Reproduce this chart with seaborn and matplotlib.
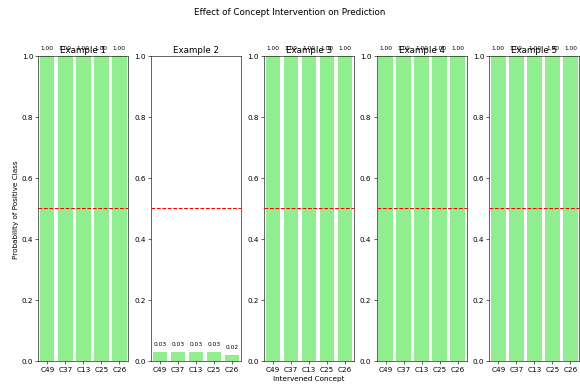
import matplotlib
matplotlib.use("Agg")
import matplotlib.pyplot as plt
import seaborn as sns

concepts = ["C49", "C37", "C13", "C25", "C26"]
example_titles = ["Example 1", "Example 2", "Example 3", "Example 4", "Example 5"]
example_1 = [1.00, 1.00, 1.00, 1.00, 1.00]
example_2 = [0.03, 0.03, 0.03, 0.03, 0.02]
example_3 = [1.00, 1.00, 1.00, 1.00, 1.00]
example_4 = [1.00, 1.00, 1.00, 1.00, 1.00]
example_5 = [1.00, 1.00, 1.00, 1.00, 1.00]
examples = [example_1, example_2, example_3, example_4, example_5]

fig, axes = plt.subplots(1, 5, figsize=(11, 7.3), dpi=52.73)
fig.suptitle("Effect of Concept Intervention on Prediction")

for i, (ax, title, probs) in enumerate(zip(axes, example_titles, examples)):
    sns.barplot(x=concepts, y=probs, color="lightgreen", saturation=1, ax=ax)
    ax.axhline(0.5, color="red", linestyle="--", linewidth=1.4, zorder=3)
    for j, p in enumerate(probs):
        ax.text(j, p + 0.02, f"{p:.2f}", ha="center", va="bottom", fontsize=8)
    ax.set_ylim(0, 1)
    ax.set_title(title)
    if i == 0:
        ax.set_ylabel("Probability of Positive Class")
    if i == 2:
        ax.set_xlabel("Intervened Concept")

fig.subplots_adjust(left=0.066, right=0.999, top=0.852, bottom=0.06, wspace=0.252)
fig.savefig("out.png")
